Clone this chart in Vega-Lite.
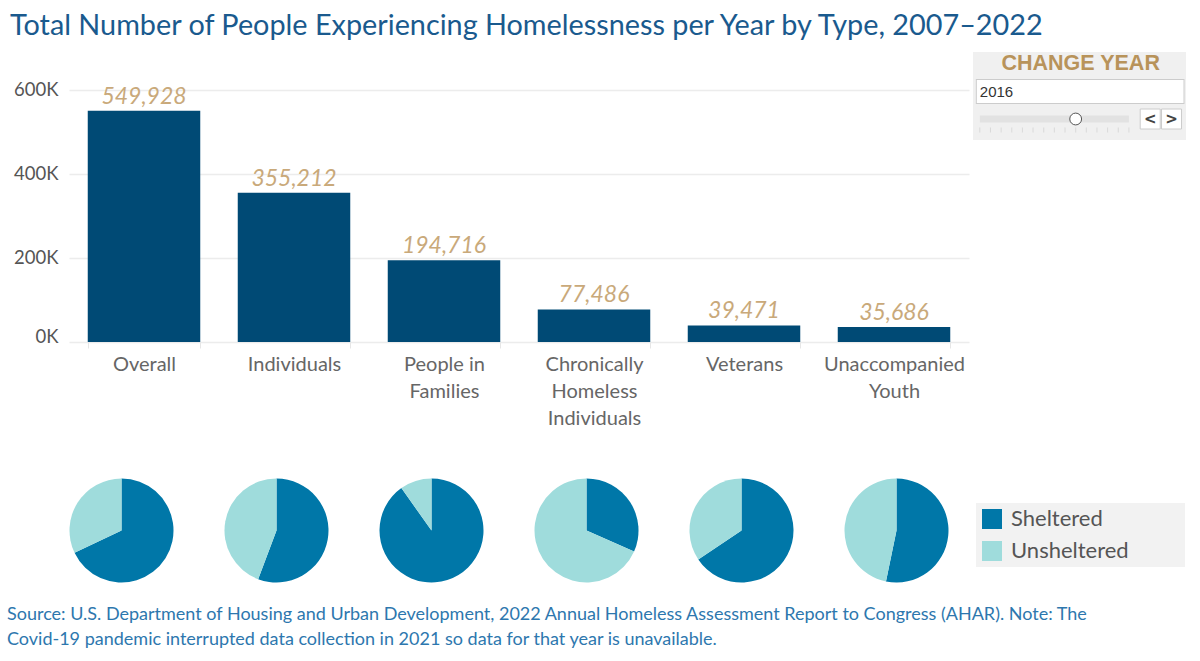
{
  "$schema": "https://vega.github.io/schema/vega-lite/v6.json",
  "background": "white",
  "padding": {"left": 7, "top": 12, "right": 5, "bottom": 5},
  "title": {
    "text": "Total Number of People Experiencing Homelessness per Year by Type, 2007–2022",
    "anchor": "start",
    "font": "Lato",
    "fontSize": 28.8,
    "fontWeight": "normal",
    "color": "#1a5a8e",
    "offset": 11,
    "dx": 3
  },
  "config": {"view": {"stroke": null}, "font": "Lato"},
  "datasets": {
    "types": [
      {"type": "Overall", "total": 549928, "Sheltered": 373571, "Unsheltered": 176357},
      {"type": "Individuals", "total": 355212, "Sheltered": 198006, "Unsheltered": 157206},
      {"type": "People in Families", "total": 194716, "Sheltered": 175565, "Unsheltered": 19151},
      {"type": "Chronically Homeless Individuals", "total": 77486, "Sheltered": 24500, "Unsheltered": 52986},
      {"type": "Veterans", "total": 39471, "Sheltered": 25900, "Unsheltered": 13571},
      {"type": "Unaccompanied Youth", "total": 35686, "Sheltered": 19000, "Unsheltered": 16686}
    ],
    "years": [
      {"year": "2007"}, {"year": "2008"}, {"year": "2009"}, {"year": "2010"}, {"year": "2011"},
      {"year": "2012"}, {"year": "2013"}, {"year": "2014"}, {"year": "2015"}, {"year": "2016"},
      {"year": "2017"}, {"year": "2018"}, {"year": "2019"}, {"year": "2020"}, {"year": "2022"}
    ],
    "buttons": [
      {"btn": "prev", "glyph": "<"},
      {"btn": "next", "glyph": ">"}
    ],
    "control": [
      {"label": "CHANGE YEAR", "year": "2016"}
    ]
  },
  "spacing": 50,
  "vconcat": [
    {
      "spacing": -6,
      "hconcat": [
        {
          "width": 900,
          "height": 290,
          "data": {"name": "types"},
          "encoding": {
            "x": {
              "field": "type",
              "type": "nominal",
              "sort": null,
              "scale": {"paddingInner": 0.25, "paddingOuter": 0.125},
              "axis": {
                "title": null,
                "labelAngle": 0,
                "labelFont": "Lato",
                "labelFontSize": 20,
                "labelColor": "#666666",
                "labelLineHeight": 27,
                "labelPadding": 6,
                "domain": false,
                "ticks": true,
                "tickBand": "extent",
                "tickColor": "#e6e6e6",
                "tickSize": 6,
                "labelExpr": "datum.label == 'People in Families' ? ['People in', 'Families'] : datum.label == 'Chronically Homeless Individuals' ? ['Chronically', 'Homeless', 'Individuals'] : datum.label == 'Unaccompanied Youth' ? ['Unaccompanied', 'Youth'] : datum.label"
              }
            },
            "y": {
              "field": "total",
              "type": "quantitative",
              "scale": {"domain": [0, 690000], "nice": false},
              "axis": {
                "title": null,
                "values": [0, 200000, 400000, 600000],
                "labelExpr": "(datum.value / 1000) + 'K'",
                "labelFont": "Lato",
                "labelFontSize": 18.5,
                "labelColor": "#555555",
                "labelPadding": 11,
                "labelFlush": 5,
                "labelFlushOffset": 4,
                "minExtent": 61,
                "domain": false,
                "ticks": false,
                "gridColor": "#ececec",
                "gridWidth": 1.5
              }
            }
          },
          "layer": [
            {"mark": {"type": "bar", "color": "#004a75"}},
            {
              "mark": {
                "type": "text",
                "font": "Lato",
                "fontStyle": "italic",
                "fontSize": 23,
                "color": "#c9a97a",
                "baseline": "alphabetic",
                "dy": -7
              },
              "encoding": {"text": {"field": "total", "type": "quantitative", "format": ","}}
            }
          ]
        },
        {
          "width": 213,
          "height": 88,
          "view": {"fill": "#f0f0f0", "stroke": null},
          "encoding": {
            "x": {
              "scale": {
                "type": "point",
                "domain": ["2007", "2008", "2009", "2010", "2011", "2012", "2013", "2014", "2015", "2016", "2017", "2018", "2019", "2020", "2022", "g1", "prev", "g2", "next"],
                "padding": 1.35,
                "align": 0.32
              },
              "axis": null
            },
            "y": {
              "scale": {
                "type": "point",
                "domain": ["title", "input", "slider"],
                "padding": 0.6,
                "align": 0.364
              },
              "axis": null
            }
          },
          "layer": [
            {
              "data": {"name": "control"},
              "mark": {"type": "text", "dx": 5, "font": "Liberation Sans", "fontWeight": "bold", "fontSize": 21.5, "color": "#b8935a", "baseline": "middle"},
              "encoding": {
                "x": {"field": "year"},
                "y": {"datum": "title"},
                "text": {"field": "label"}
              }
            },
            {
              "data": {"name": "control"},
              "mark": {"type": "rule", "color": "#cccccc", "strokeWidth": 25, "strokeCap": "butt", "xOffset": -4, "x2Offset": 13},
              "encoding": {
                "x": {"datum": "2007"},
                "x2": {"datum": "next"},
                "y": {"datum": "input"}
              }
            },
            {
              "data": {"name": "control"},
              "mark": {"type": "rule", "color": "#ffffff", "strokeWidth": 23, "strokeCap": "butt", "xOffset": -3, "x2Offset": 12},
              "encoding": {
                "x": {"datum": "2007"},
                "x2": {"datum": "next"},
                "y": {"datum": "input"}
              }
            },
            {
              "data": {"name": "control"},
              "mark": {"type": "text", "align": "left", "baseline": "middle", "dx": 0, "font": "Liberation Sans", "fontSize": 15, "color": "#333333"},
              "encoding": {
                "x": {"datum": "2007"},
                "y": {"datum": "input"},
                "text": {"field": "year"}
              }
            },
            {
              "data": {"name": "control"},
              "mark": {"type": "rule", "color": "#e2e2e2", "strokeWidth": 7, "strokeCap": "butt"},
              "encoding": {
                "x": {"datum": "2007"},
                "x2": {"datum": "2022"},
                "y": {"datum": "slider"}
              }
            },
            {
              "data": {"name": "years"},
              "mark": {"type": "tick", "orient": "vertical", "size": 5, "thickness": 1, "color": "#d0d0d0", "yOffset": 11},
              "encoding": {
                "x": {"field": "year"},
                "y": {"datum": "slider"}
              }
            },
            {
              "data": {"name": "control"},
              "mark": {"type": "point", "shape": "circle", "size": 140, "filled": true, "fill": "#ffffff", "stroke": "#555555", "strokeWidth": 1, "opacity": 1},
              "encoding": {
                "x": {"field": "year"},
                "y": {"datum": "slider"}
              }
            },
            {
              "data": {"name": "buttons"},
              "mark": {"type": "point", "shape": "square", "size": 400, "filled": true, "fill": "#ffffff", "stroke": "#cccccc", "strokeWidth": 1, "opacity": 1},
              "encoding": {
                "x": {"field": "btn"},
                "y": {"datum": "slider"}
              }
            },
            {
              "data": {"name": "buttons"},
              "mark": {"type": "text", "font": "DejaVu Sans", "fontWeight": "bold", "fontSize": 15, "color": "#444444", "baseline": "middle"},
              "encoding": {
                "x": {"field": "btn"},
                "y": {"datum": "slider"},
                "text": {"field": "glyph"}
              }
            }
          ]
        }
      ]
    },
    {
      "data": {"name": "types"},
      "transform": [{"fold": ["Sheltered", "Unsheltered"], "as": ["status", "count"]}],
      "title": {
        "text": [
          "Source: U.S. Department of Housing and Urban Development, 2022 Annual Homeless Assessment Report to Congress (AHAR). Note: The",
          "Covid-19 pandemic interrupted data collection in 2021 so data for that year is unavailable."
        ],
        "orient": "bottom",
        "anchor": "start",
        "font": "Lato",
        "fontSize": 18,
        "fontWeight": "normal",
        "color": "#2d77ae",
        "lineHeight": 25,
        "dx": -62,
        "offset": 23
      },
      "facet": {
        "column": {
          "field": "type",
          "type": "nominal",
          "sort": ["Overall", "Individuals", "People in Families", "Chronically Homeless Individuals", "Veterans", "Unaccompanied Youth"],
          "title": null,
          "header": {"labels": false, "labelPadding": 0, "titlePadding": 0}
        }
      },
      "spacing": 50,
      "spec": {
        "width": 105,
        "height": 105,
        "mark": {"type": "arc", "outerRadius": 52},
        "encoding": {
          "theta": {"field": "count", "type": "quantitative", "stack": true},
          "order": {"field": "status", "sort": "ascending"},
          "color": {
            "field": "status",
            "type": "nominal",
            "scale": {"domain": ["Sheltered", "Unsheltered"], "range": ["#0077a8", "#9fdcdc"]},
            "legend": {
              "orient": "none",
              "legendX": 907,
              "legendY": 451,
              "title": null,
              "symbolType": "square",
              "symbolSize": 400,
              "symbolStrokeWidth": 0,
              "labelFont": "Lato",
              "labelFontSize": 22,
              "labelColor": "#555555",
              "labelOffset": 8,
              "labelLimit": 300,
              "rowPadding": 10,
              "padding": 5,
              "fillColor": "#f2f2f2",
              "labelExpr": "datum.label + '\u00a0\u00a0\u00a0\u00a0\u00a0\u00a0\u00a0\u00a0\u00a0\u200b'"
            }
          }
        }
      }
    }
  ]
}
